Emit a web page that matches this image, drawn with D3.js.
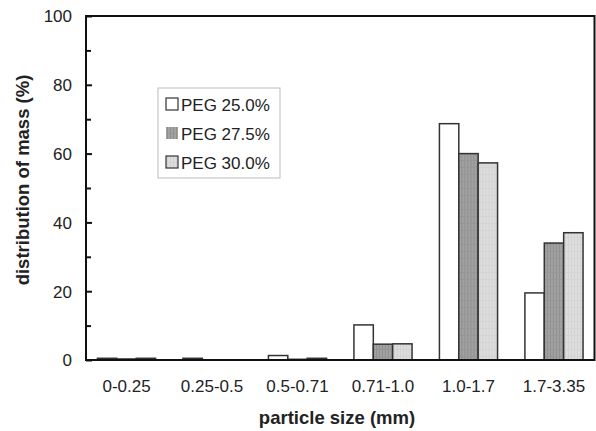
<!DOCTYPE html>
<html>
<head>
<meta charset="utf-8">
<script src="https://cdn.jsdelivr.net/npm/d3@7"></script>
<style>
  body { margin: 0; background: #fff; }
  svg text { font-family: "Liberation Sans", Arial, sans-serif; fill: #222; }
</style>
</head>
<body>
<div id="chart"></div>
<script>
"use strict";

// particle size classes (mm)
var categories = ["0-0.25", "0.25-0.5", "0.5-0.71", "0.71-1.0", "1.0-1.7", "1.7-3.35"];
var seriesNames = ["PEG 25.0%", "PEG 27.5%", "PEG 30.0%"];

// distribution of mass (%) per PEG content
var peg250 = [0.5, 0.5, 1.3, 10.2, 68.7, 19.5];
var peg275 = [0.3, 0.0, 0.2, 4.6, 60.0, 34.0];
var peg300 = [0.5, 0.0, 0.5, 4.7, 57.3, 37.0];

var yMajorTicks = [0, 20, 40, 60, 80, 100];
var yMinorTicks = [10, 30, 50, 70, 90];

var width = 596, height = 431;
var plotLeft = 86, plotRight = 594.5, plotTop = 16, plotBottom = 360;

var svg = d3.select("#chart").append("svg")
    .attr("width", width)
    .attr("height", height);

// textures for the grey bars
var defs = svg.append("defs");
var pd = defs.append("pattern")
    .attr("id", "darkfill")
    .attr("patternUnits", "userSpaceOnUse")
    .attr("width", 3).attr("height", 7);
pd.append("rect").attr("width", 3).attr("height", 7).attr("fill", "#a2a2a2");
pd.append("rect").attr("x", 1).attr("width", 1).attr("height", 7).attr("fill", "#8e8e8e");
pd.append("rect").attr("y", 6).attr("width", 3).attr("height", 1).attr("fill", "#969696");

var pl = defs.append("pattern")
    .attr("id", "lightfill")
    .attr("patternUnits", "userSpaceOnUse")
    .attr("width", 3).attr("height", 7);
pl.append("rect").attr("width", 3).attr("height", 7).attr("fill", "#dedede");
pl.append("rect").attr("x", 1).attr("width", 1).attr("height", 7).attr("fill", "#d2d2d2");
pl.append("rect").attr("y", 6).attr("width", 3).attr("height", 1).attr("fill", "#d4d4d4");

var fills = ["#ffffff", "url(#darkfill)", "url(#lightfill)"];

var x = d3.scaleBand()
    .domain(categories)
    .range([plotLeft, plotRight])
    .paddingInner(0.32)
    .paddingOuter(0.134);

var xSub = d3.scaleBand()
    .domain(seriesNames)
    .range([0, x.bandwidth()]);

var y = d3.scaleLinear()
    .domain([0, 100])
    .range([plotBottom, plotTop]);

var data = categories.map(function(c, i) {
    return {
        cat: c,
        values: [
            {name: seriesNames[0], v: peg250[i], k: 0},
            {name: seriesNames[1], v: peg275[i], k: 1},
            {name: seriesNames[2], v: peg300[i], k: 2}
        ]
    };
});

// bars
var groups = svg.selectAll(".group")
    .data(data)
    .enter().append("g")
    .attr("class", "group")
    .attr("transform", function(d) { return "translate(" + x(d.cat) + ",0)"; });

groups.selectAll("rect")
    .data(function(d) { return d.values; })
    .enter().append("rect")
    .attr("x", function(d) { return xSub(d.name); })
    .attr("y", function(d) { return y(d.v); })
    .attr("width", xSub.bandwidth())
    .attr("height", function(d) { return y(0) - y(d.v); })
    .attr("fill", function(d) { return fills[d.k]; })
    .attr("stroke", "#333")
    .attr("stroke-width", 1.5);

// y axis, ticks pointing inward
var yAxis = svg.append("g")
    .attr("transform", "translate(" + plotLeft + ",0)")
    .call(d3.axisLeft(y).tickValues(yMajorTicks).tickSize(-6).tickPadding(14));
yAxis.select(".domain").remove();
yAxis.selectAll("line").attr("stroke", "#111").attr("stroke-width", 2);
yAxis.selectAll("text")
    .style("font-size", "17px")
    .attr("dy", "0.35em");

var yMinor = svg.append("g")
    .attr("transform", "translate(" + plotLeft + ",0)")
    .call(d3.axisLeft(y).tickValues(yMinorTicks).tickSize(-5).tickFormat(""));
yMinor.select(".domain").remove();
yMinor.selectAll("line").attr("stroke", "#111").attr("stroke-width", 2);

// x axis labels only
var xAxis = svg.append("g")
    .attr("transform", "translate(0," + plotBottom + ")")
    .call(d3.axisBottom(x).tickSize(0).tickPadding(20));
xAxis.select(".domain").remove();
xAxis.selectAll("text").style("font-size", "17px");

// frame
svg.append("rect")
    .attr("x", plotLeft)
    .attr("y", plotTop)
    .attr("width", plotRight - plotLeft)
    .attr("height", plotBottom - plotTop)
    .attr("fill", "none")
    .attr("stroke", "#111")
    .attr("stroke-width", 2);

// axis titles
svg.append("text")
    .attr("x", 337)
    .attr("y", 424)
    .attr("text-anchor", "middle")
    .style("font-size", "18.5px")
    .style("font-weight", "bold")
    .text("particle size (mm)");

svg.append("text")
    .attr("transform", "translate(29,180) rotate(-90)")
    .attr("text-anchor", "middle")
    .style("font-size", "18.5px")
    .style("font-weight", "bold")
    .text("distribution of mass (%)");

// legend
var legend = svg.append("g")
    .attr("transform", "translate(158,88)");
legend.append("rect")
    .attr("width", 122)
    .attr("height", 90)
    .attr("fill", "#fff")
    .attr("stroke", "#bbb")
    .attr("stroke-width", 1);

var items = legend.selectAll(".item")
    .data(seriesNames)
    .enter().append("g")
    .attr("class", "item")
    .attr("transform", function(d, i) { return "translate(8," + (10 + i * 29) + ")"; });

items.append("rect")
    .attr("width", 12)
    .attr("height", 12)
    .attr("fill", function(d, i) { return fills[i]; })
    .attr("stroke", function(d, i) { return i == 1 ? "none" : "#333"; })
    .attr("stroke-width", 1.2);

items.append("text")
    .attr("x", 15)
    .attr("y", 13)
    .style("font-size", "17px")
    .text(function(d) { return d; });
</script>
</body>
</html>
